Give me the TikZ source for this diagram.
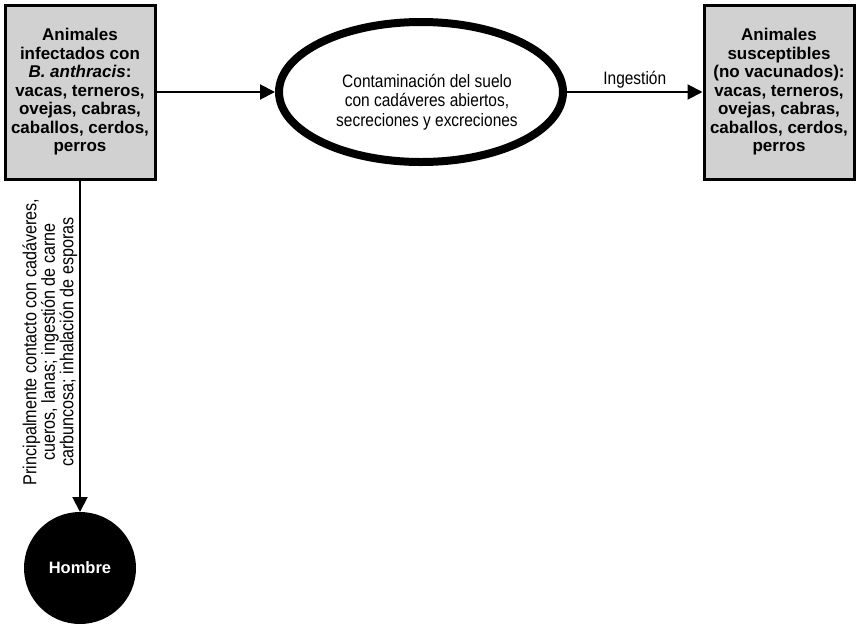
\documentclass[tikz,border=0pt]{standalone}
\usepackage{fontspec}
\setmainfont{Liberation Sans}
\newfontfamily\estrecha{Liberation Sans}[FakeStretch=0.86]
\usetikzlibrary{arrows.meta,shapes.geometric}
\tikzset{
  caja/.style = {rectangle, draw=black, line width=3pt, fill=black!18,
    minimum width=150pt, minimum height=174pt, align=center, inner sep=0pt,
    font=\fontsize{17}{18.5}\selectfont\bfseries},% caja gris, animales
  elipse/.style = {ellipse, draw=black, line width=8pt, fill=white,
    minimum width=284pt, minimum height=140pt},% suelo contaminado
  hombre_n/.style = {circle, draw=black, fill=black, text=white,
    minimum size=110pt, inner sep=0pt,
    font=\fontsize{16.5}{18}\selectfont\bfseries},% hombre, noeud noir
  texto/.style = {align=center, inner sep=0pt,
    font=\estrecha\fontsize{18}{19.5}\selectfont}% texto estrecho
}
\begin{document}
\begin{tikzpicture}[x=1pt,y=-1pt,->,>={Triangle[length=15pt,width=15pt]},
  line width=2pt]
\useasboundingbox (0,0) rectangle (857,625);
\node [caja] (animales_inf) at (80,92) {Animales\\ infectados con\\
  \textit{B. anthracis}:\\ vacas, terneros,\\ ovejas, cabras,\\
  caballos, cerdos,\\ perros};
\node [caja] (animales_sus) at (779,92) {Animales\\ susceptibles\\
  (no vacunados):\\ vacas, terneros,\\ ovejas, cabras,\\
  caballos, cerdos,\\ perros};
\node [elipse] (suelo) at (421,92) {};
\node [texto] (suelo_txt) at (427,102) {Contaminación del suelo\\
  con cadáveres abiertos,\\ secreciones y excreciones};
\node [hombre_n] (hombre) at (80,568) {Hombre};
\node [texto, rotate=90, font=\estrecha\fontsize{18.8}{18.5}\selectfont]
  (via_hombre) at (50,342)
  {Principalmente contacto con cadáveres,\\ cueros, lanas; ingestión de carne\\
  carbuncosa; inhalación de esporas};

\draw (animales_inf) -- (suelo);
\draw (suelo) -- node [texto, above=3pt] (ingestion) {Ingestión} (animales_sus);
\draw (animales_inf) -- (hombre);
\end{tikzpicture}
\end{document}
